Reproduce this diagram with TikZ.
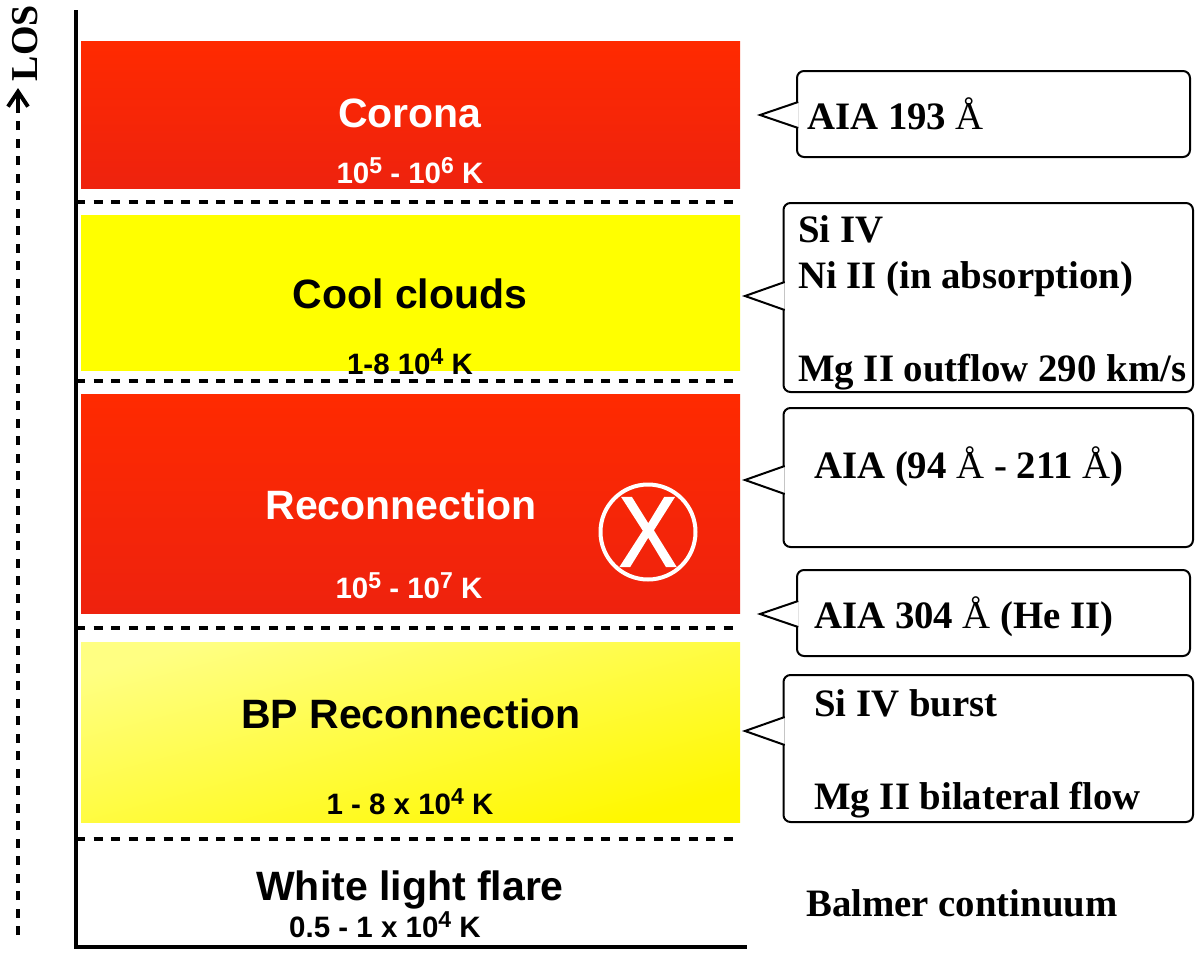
\documentclass[tikz,border=0pt]{standalone}
\usepackage{fontspec}
\setmainfont{Liberation Serif}
\setsansfont{Liberation Sans}
\newfontfamily\markfont[FakeBold=1.6]{Liberation Sans}
\usetikzlibrary{calc,arrows.meta,positioning}
\definecolor{flarered}{RGB}{255,42,0}
\definecolor{flaredark}{RGB}{238,34,14}
\definecolor{flareyellow}{RGB}{255,248,0}
\definecolor{paleyellow}{RGB}{255,255,130}
\tikzset{
  band/.style={inner sep=0pt, outer sep=0pt, anchor=north west},
  bandtitle/.style={font=\sffamily\bfseries\fontsize{41}{41}\selectfont},
  bandtemp/.style={font=\sffamily\bfseries\fontsize{29.5}{29.5}\selectfont},
  bubble/.style={draw, line width=2pt, rounded corners=7pt, fill=white, inner sep=0pt, outer sep=0pt, anchor=north west},
  bubbletext/.style={font=\rmfamily\bfseries\fontsize{38.8}{38.8}\selectfont, anchor=base west, inner sep=0pt},
  divider/.style={line width=4pt, dash pattern=on 9pt off 8.5pt},
}
\newcommand{\bandbox}[6]{% name, y, height, top colour, bottom colour, extra options
  \node[band, minimum width=659pt, minimum height=#3pt, top color=#4, bottom color=#5, #6] (#1) at (81,#2) {};
}
\newcommand{\pow}[1]{\raisebox{0.62ex}{\fontsize{23}{23}\selectfont #1}}
\newcommand{\Ang}{{\mdseries Å}}
\begin{document}
\begin{tikzpicture}[x=1pt,y=-1pt]
  \useasboundingbox (0,0) rectangle (1200,959);
  % bands
  \bandbox{corona}{41.5}{147}{flarered}{flaredark}{}
  \bandbox{clouds}{215}{155}{yellow}{yellow}{}
  \bandbox{recon}{394}{219.5}{flarered}{flaredark}{}
  \bandbox{bprecon}{642}{180.5}{paleyellow}{flareyellow}{shading angle=15}
  % axes
  \coordinate (axtop) at (76,10);
  \coordinate (axorigin) at (76,947);
  \coordinate (axright) at (747,947);
  \draw[line width=4pt] (axtop) -- (axorigin) -- (axright);
  % dividers
  \foreach \y/\n in {202/a,381/b,628/c,839/d} {
    \coordinate (div\n l) at (76,\y);
    \coordinate (div\n r) at (740,\y);
    \draw[divider] (div\n l) -- (div\n r);
  }
  % line of sight
  \coordinate (losfoot) at (18,935);
  \coordinate (losneck) at (18,106);
  \coordinate (loshead) at (18,88);
  \draw[divider] (losfoot) -- (losneck);
  \draw[line width=4pt, -{Straight Barb[length=15pt,width=20pt,line width=4pt]}] (losneck) -- (loshead);
  \node[rotate=90, font=\rmfamily\bfseries\fontsize{38}{38}\selectfont, inner sep=0pt] (los) at (25,43) {LOS};
  % band labels
  \node[bandtitle, white] (coronatitle) at (410,113) {Corona};
  \node[bandtemp, white] (coronatemp) at (410,170.5) {10\pow{5} - 10\pow{6} K};
  \node[bandtitle] (cloudstitle) at (410,294) {Cool clouds};
  \node[bandtemp] (cloudstemp) at (410,361.5) {1-8 10\pow{4} K};
  \node[bandtitle, white] (recontitle) at (401,505) {Reconnection};
  \node[bandtemp, white] (recontemp) at (409,585.5) {10\pow{5} - 10\pow{7} K};
  \node[bandtitle] (bptitle) at (411,714) {BP Reconnection};
  \node[bandtemp] (bptemp) at (410,801.5) {1 - 8 x 10\pow{4} K};
  \node[bandtitle] (whitetitle) at (410,890) {White light flare};
  \node[bandtemp] (whitetemp) at (385,924.5) {0.5 - 1 x 10\pow{4} K};
  % reconnection mark
  \node[draw=white, line width=4pt, circle, minimum size=95pt, inner sep=0pt, text=white, font=\markfont\fontsize{100}{100}\selectfont] (xmark) at (648,532) {\scalebox{0.88}[1]{X}};
  % callouts
  \foreach \name/\x/\y/\w/\h/\tipx/\tipy/\half in {
    aia/797/71/393/86/760/115/13,
    cool/783.5/203/409.5/189/745/296/14,
    hot/783.5/408/409.5/139/745/480/14,
    helium/797/570/393/86/760/614/13,
    burst/783.5/675/409.5/147/745/731/14} {
    \node[bubble, minimum width=\w pt, minimum height=\h pt] (\name) at (\x,\y) {};
    \coordinate (\name tip) at (\tipx,\tipy);
    \coordinate (\name a) at (\x+1.2,\tipy-\half);
    \coordinate (\name b) at (\x+1.2,\tipy+\half);
    \draw[line width=2pt, fill=white] (\name a) -- (\name tip) -- (\name b);
  }
  % callout texts
  \node[bubbletext] (aialabel) at (807,129) {AIA 193 \Ang};
  \node[bubbletext] (coola) at (798,242) {Si IV};
  \node[bubbletext] (coolb) at (798,288) {Ni II (in absorption)};
  \node[bubbletext] (coolc) at (798,381) {Mg II outflow 290 km/s};
  \node[bubbletext] (hotlabel) at (814,478) {AIA (94 \Ang{} - 211 \Ang)};
  \node[bubbletext] (helabel) at (814,628) {AIA 304 \Ang{} (He II)};
  \node[bubbletext] (bursta) at (814,716) {Si IV burst};
  \node[bubbletext] (burstb) at (814,809) {Mg II bilateral flow};
  \node[bubbletext] (balmer) at (806,916) {Balmer continuum};
\end{tikzpicture}
\end{document}
